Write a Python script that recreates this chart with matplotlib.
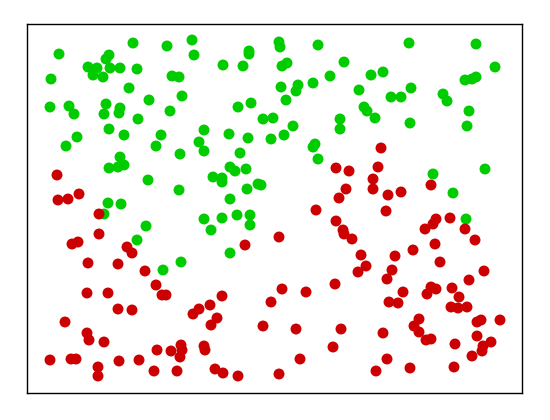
import matplotlib
matplotlib.use("Agg")
import matplotlib.pyplot as plt

green_x = [32, 24, 23, 42, 47, 39, 50, 61, 70, 66, 76, 79, 82, 83, 93, 106, 110, 102, 79, 77,
           93, 92, 82, 97, 111, 122, 134, 129, 140, 145, 152, 155, 143, 165, 167, 196, 216, 222, 222, 252,
           253, 291, 255, 260, 317, 303, 254, 271, 269, 286, 259, 332, 211, 224, 236, 246, 266, 257, 313, 313,
           177, 172, 202, 221, 244, 288, 286, 382, 449, 468, 344, 356, 364, 374, 384, 416, 420, 438, 445, 449,
           337, 340, 348, 383, 442, 440, 153, 93, 82, 91, 97, 121, 152, 81, 94, 77, 119, 110, 154, 136,
           177, 213, 203, 208, 219, 186, 195, 195, 220, 231, 234, 203, 177, 195, 210, 223, 223, 184, 203, 291,
           406, 458, 426, 439]
green_y = [339, 314, 286, 287, 279, 247, 256, 326, 325, 318, 316, 334, 338, 325, 325, 350, 324, 305, 289, 279,
           285, 280, 264, 258, 274, 293, 258, 247, 347, 317, 316, 297, 282, 353, 338, 328, 327, 342, 339, 351,
           346, 348, 327, 330, 331, 317, 306, 308, 302, 310, 293, 303, 286, 290, 274, 275, 267, 258, 274, 264,
           263, 251, 259, 255, 254, 249, 246, 350, 349, 326, 318, 321, 296, 296, 305, 299, 292, 313, 314, 316,
           286, 282, 275, 270, 282, 267, 239, 236, 225, 226, 228, 213, 203, 190, 189, 179, 167, 153, 131, 123,
           242, 240, 226, 222, 224, 216, 215, 211, 204, 209, 208, 194, 174, 175, 178, 178, 168, 163, 140, 234,
           219, 224, 200, 174]

red_x = [354, 30, 31, 41, 52, 72, 72, 45, 51, 100, 105, 61, 91, 118, 218, 252, 289, 309, 322, 319,
         312, 309, 316, 317, 325, 334, 331, 351, 346, 346, 361, 374, 359, 404, 423, 409, 406, 398, 438, 448,
         408, 386, 413, 368, 339, 365, 457, 129, 135, 139, 60, 81, 91, 105, 38, 166, 172, 60, 62, 77,
         23, 44, 49, 71, 71, 92, 112, 130, 144, 154, 155, 153, 127, 150, 183, 195, 190, 184, 177, 178,
         188, 196, 211, 236, 244, 255, 279, 269, 252, 273, 306, 314, 308, 360, 376, 362, 371, 404, 409, 400,
         425, 432, 442, 424, 431, 440, 392, 387, 392, 399, 404, 356, 450, 454, 473, 450, 464, 456, 455, 445,
         428, 360, 349, 383, 427]
red_y = [245, 218, 193, 194, 199, 179, 159, 149, 151, 146, 140, 130, 129, 122, 148, 156, 183, 225, 222, 204,
         195, 172, 163, 159, 154, 138, 121, 226, 214, 204, 198, 201, 182, 208, 175, 174, 169, 164, 164, 153,
         149, 143, 131, 137, 127, 123, 122, 108, 98, 98, 100, 100, 84, 83, 71, 79, 84, 60, 53, 51,
         33, 34, 34, 26, 17, 32, 33, 43, 42, 48, 43, 36, 22, 22, 88, 97, 75, 68, 47, 43,
         24, 20, 17, 67, 91, 104, 101, 64, 19, 34, 46, 64, 109, 114, 101, 91, 90, 106, 104, 99,
         105, 96, 113, 86, 85, 86, 74, 67, 61, 53, 54, 60, 71, 73, 73, 57, 51, 47, 42, 37,
         49, 34, 22, 25, 26]

fig = plt.figure(figsize=(5.5, 4.2), dpi=100)
ax = fig.add_axes([27 / 550, 27 / 420, 495 / 550, 369 / 420])
ax.scatter(green_x, green_y, s=62, color="#00cc00", edgecolors="none")
ax.scatter(red_x, red_y, s=62, color="#cc0000", edgecolors="none")
ax.set_xlim(0, 495)
ax.set_ylim(0, 369)
ax.set_xticks([])
ax.set_yticks([])
for sp in ax.spines.values():
    sp.set_linewidth(1.0)
    sp.set_color("black")
fig.savefig("out.png", dpi=100)
